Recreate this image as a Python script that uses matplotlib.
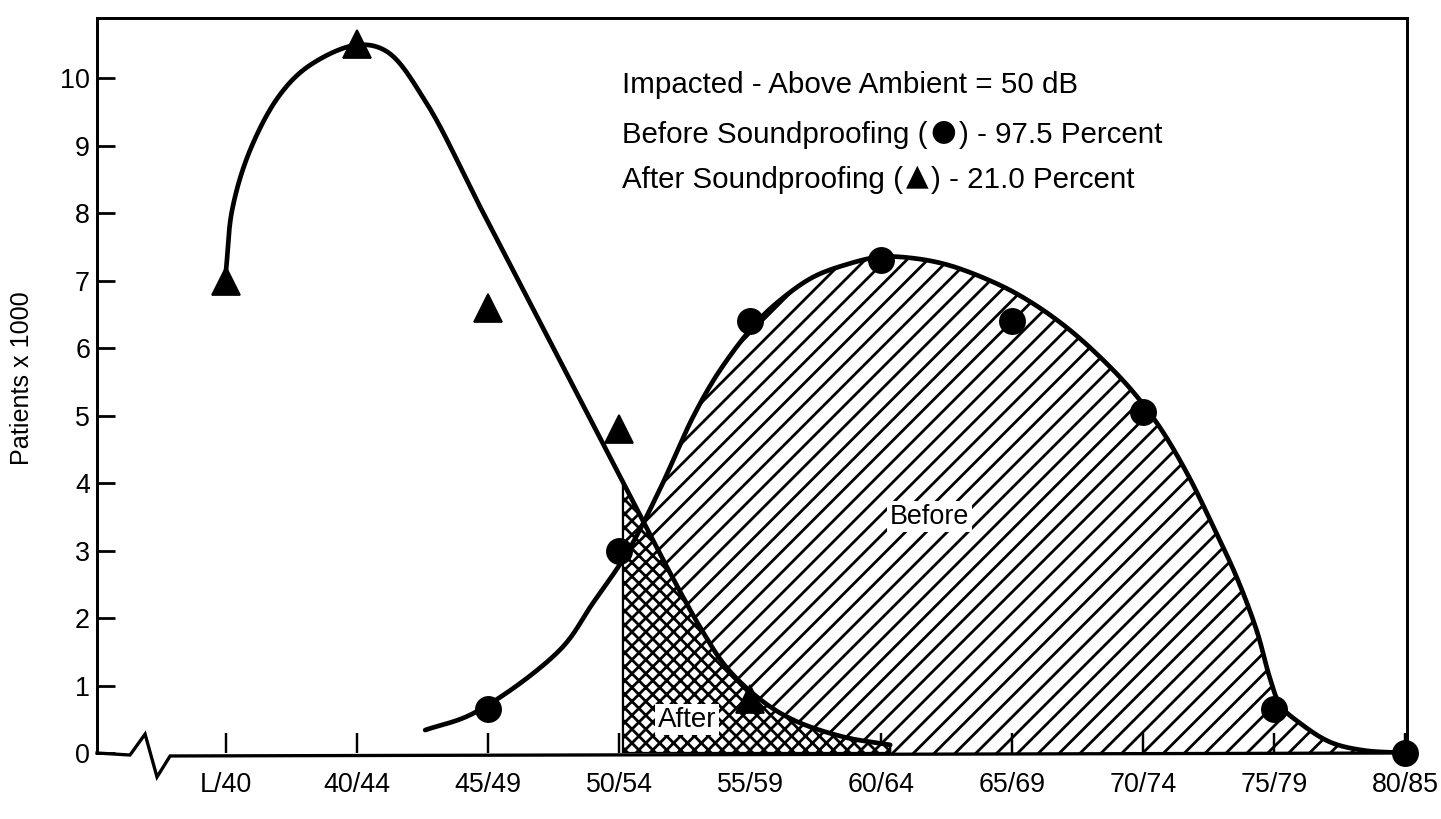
import numpy as np
import matplotlib
matplotlib.use("Agg")
import matplotlib.pyplot as plt

# ---------------- data ----------------
categories = ["L/40", "40/44", "45/49", "50/54", "55/59",
              "60/64", "65/69", "70/74", "75/79", "80/85"]

after_idx = [0, 1, 2, 3, 4]
after_vals = [7.0, 10.5, 6.6, 4.8, 0.8]

before_idx = [2, 3, 4, 5, 6, 7, 8, 9]
before_vals = [0.65, 3.0, 6.4, 7.3, 6.4, 5.05, 0.65, 0.0]

# hand-drawn smooth curves
after_curve_x = [0.0, 0.046, 0.183, 0.41, 0.64, 1.0, 1.23, 1.53, 1.94,
                 2.4, 2.85, 3.18, 3.37, 3.62, 3.82, 4.08, 4.33, 4.71, 5.07]
after_curve_y = [7.15, 8.04, 8.93, 9.75, 10.19, 10.49, 10.39, 9.63, 8.09,
                 6.37, 4.69, 3.45, 2.74, 1.86, 1.27, 0.79, 0.49, 0.24, 0.12]

before_curve_x = [1.52, 1.89, 2.55, 2.80, 3.06, 3.31, 3.565, 3.77,
                  4.05, 4.23, 4.48, 4.74, 4.99, 5.25, 5.53, 5.91, 6.16,
                  6.42, 6.67, 6.92, 7.13, 7.34, 7.53, 7.72, 7.87, 7.97,
                  8.05, 8.2, 8.43, 8.68, 9.0]
before_curve_y = [0.34, 0.59, 1.53, 2.22, 2.96, 3.90, 4.98, 5.67,
                  6.38, 6.71, 7.05, 7.24, 7.35, 7.33, 7.22, 6.93, 6.66,
                  6.30, 5.87, 5.36, 4.82, 4.13, 3.38, 2.58, 1.80, 1.10,
                  0.70, 0.44, 0.16, 0.04, 0.0]

shade_start = 3.03   # 50 dB boundary
after_end = 5.07

yticks = list(range(0, 11))
note_title = "Impacted - Above Ambient = 50 dB"
note_before = ["Before Soundproofing (", "\u25CF", ") - 97.5 Percent"]
note_after = ["After Soundproofing (", "\u25B2", ") - 21.0 Percent"]


def smooth(xs, ys, n=30, sx=1.94):
    """Centripetal Catmull-Rom through the traced points."""
    P = np.column_stack([np.asarray(xs, float) * sx, np.asarray(ys, float)])
    P = np.vstack([2 * P[0] - P[1], P, 2 * P[-1] - P[-2]])
    out = []
    for i in range(1, len(P) - 2):
        p0, p1, p2, p3 = P[i - 1], P[i], P[i + 1], P[i + 2]

        def tj(ti, a, b):
            return ti + max(np.linalg.norm(b - a), 1e-9) ** 0.5
        t0 = 0.0
        t1 = tj(t0, p0, p1)
        t2 = tj(t1, p1, p2)
        t3 = tj(t2, p2, p3)
        t = np.linspace(t1, t2, n, endpoint=False)[:, None]
        A1 = (t1 - t) / (t1 - t0) * p0 + (t - t0) / (t1 - t0) * p1
        A2 = (t2 - t) / (t2 - t1) * p1 + (t - t1) / (t2 - t1) * p2
        A3 = (t3 - t) / (t3 - t2) * p2 + (t - t2) / (t3 - t2) * p3
        B1 = (t2 - t) / (t2 - t0) * A1 + (t - t0) / (t2 - t0) * A2
        B2 = (t3 - t) / (t3 - t1) * A2 + (t - t1) / (t3 - t1) * A3
        C = (t2 - t) / (t2 - t1) * B1 + (t - t1) / (t2 - t1) * B2
        out.append(C)
    out.append(P[-2][None, :])
    out = np.vstack(out)
    return out[:, 0] / sx, out[:, 1]


plt.rcParams['font.family'] = ['Liberation Sans', 'DejaVu Sans']
plt.rcParams['hatch.linewidth'] = 1.6

DPI = 125
fig = plt.figure(figsize=(1441 / DPI, 819 / DPI), dpi=DPI)
ax = fig.add_axes([97 / 1441, 66 / 819, 1310 / 1441, 735 / 819])
ax.set_xlim(-0.985, 9.015)
ax.set_ylim(0, 10.89)

ax_x, ax_y = smooth(after_curve_x, after_curve_y)
bx, by = smooth(before_curve_x, before_curve_y)

# "Before" shaded area
m = bx > shade_start
yb0 = np.interp(shade_start, bx, by)
px = np.concatenate([[shade_start, shade_start], bx[m], [bx[-1]]])
py = np.concatenate([[0, yb0], by[m], [0]])
ax.fill(px, py, facecolor='white', edgecolor='black', linewidth=0,
        hatch='//', zorder=1)

# "After" shaded area
m2 = ax_x > shade_start
ya0 = np.interp(shade_start, ax_x, ax_y)
qx = np.concatenate([[shade_start, shade_start], ax_x[m2], [after_end]])
qy = np.concatenate([[0, ya0], ax_y[m2], [0]])
ax.fill(qx, qy, facecolor='white', edgecolor='black', linewidth=1.3,
        hatch='xxx', zorder=2)

# curves
ax.plot(ax_x, ax_y, color='black', lw=2.7, solid_capstyle='round', zorder=3)
ax.plot(bx, by, color='black', lw=2.7, solid_capstyle='round', zorder=3)

# markers
ax.plot(after_idx, after_vals, linestyle='none', marker='^', ms=16,
        color='black', zorder=4, clip_on=False)
ax.plot(before_idx, before_vals, linestyle='none', marker='o', ms=14.5,
        color='black', zorder=4, clip_on=False)

# region labels
ax.text(5.37, 3.5, "Before", fontsize=15.5, ha='center', va='center',
        zorder=5, bbox=dict(facecolor='white', edgecolor='none', pad=1.5))
ax.text(3.52, 0.49, "After", fontsize=16, ha='center', va='center',
        zorder=5, bbox=dict(facecolor='white', edgecolor='none', pad=1.5))

# notes
NFS = 17
ax.text(3.02, 9.78, note_title, fontsize=NFS, ha='left', va='baseline',
        zorder=5)
for yv, parts in zip([9.04, 8.37], [note_before, note_after]):
    t1 = ax.text(3.02, yv, parts[0], fontsize=NFS, ha='left',
                 va='baseline', zorder=5)
    t2 = ax.annotate(parts[1], xy=(1, 0), xycoords=t1, xytext=(2, 2),
                     textcoords='offset points', fontsize=NFS,
                     family='DejaVu Sans', ha='left', va='bottom',
                     zorder=5)
    ax.annotate(parts[2], xy=(1, 0), xycoords=t2, xytext=(1.5, -2),
                textcoords='offset points', fontsize=NFS,
                ha='left', va='bottom', zorder=5)

# axes styling
for side in ['left', 'top', 'right']:
    ax.spines[side].set_linewidth(1.7)
ax.spines['bottom'].set_visible(False)

# bottom axis with break symbol
zz_x = [-0.985, -0.733, -0.618, -0.527, -0.427, 9.015]
zz_y = [0.0, -0.03, 0.28, -0.356, -0.044, 0.0]
ax.plot(zz_x, zz_y, color='black', lw=1.9, clip_on=False, zorder=6,
        solid_joinstyle='miter')

ax.set_xticks(range(len(categories)))
ax.set_xticklabels(categories)
ax.set_yticks(yticks)
ax.set_yticklabels([str(v) for v in yticks])
ax.tick_params(axis='x', direction='in', length=11.5, width=1.4,
               labelsize=15.5, pad=11)
ax.tick_params(axis='y', direction='in', length=10.4, width=1.6,
               labelsize=15.5, pad=4)

ax.set_ylabel("Patients x 1000", fontsize=14.5)
ax.yaxis.set_label_coords(-0.048, 0.51)

fig.savefig("out.png", dpi=DPI, facecolor='white')
